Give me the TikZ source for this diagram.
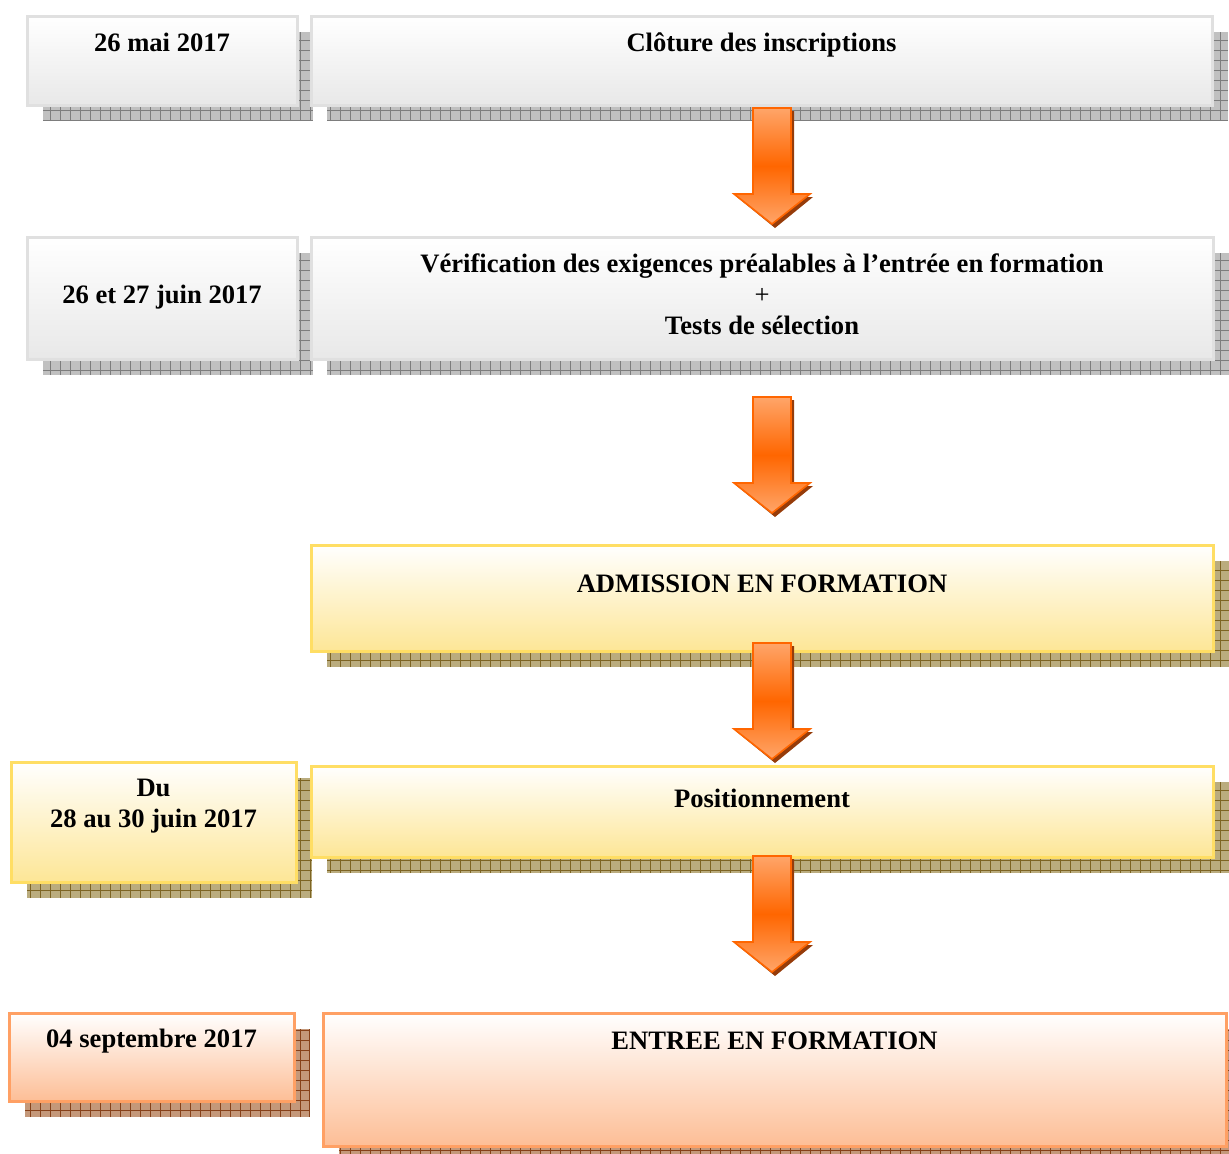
\documentclass[tikz,border=0pt]{standalone}
\usepackage{fontspec}
\setmainfont{Liberation Serif}
\usetikzlibrary{backgrounds}

\definecolor{greybot}{RGB}{232,232,232}
\definecolor{greyedge}{RGB}{224,224,224}
\definecolor{ylwbot}{RGB}{253,230,150}
\definecolor{ylwedge}{RGB}{255,222,100}
\definecolor{orgbot}{RGB}{253,190,150}
\definecolor{orgedge}{RGB}{255,160,100}
\definecolor{shgreyfill}{RGB}{192,192,192}
\definecolor{shgreyline}{RGB}{125,125,125}
\definecolor{sholivefill}{RGB}{186,172,126}
\definecolor{sholiveline}{RGB}{125,100,35}
\definecolor{shbrownfill}{RGB}{196,152,122}
\definecolor{shbrownline}{RGB}{135,65,25}
\definecolor{arrowlight}{RGB}{255,165,105}
\definecolor{arrowdark}{RGB}{255,102,0}
\definecolor{arrowshade}{RGB}{150,60,10}

\tikzset{
  stage/.style={draw, line width=1.5pt, inner xsep=2pt, inner ysep=0pt, outer sep=0pt,
    anchor=north west, align=center, font=\fontsize{13.3pt}{15.3pt}\selectfont\bfseries},
  greybox/.style={stage, draw=greyedge, top color=white, bottom color=greybot},
  ylwbox/.style={stage, draw=ylwedge, top color=white, bottom color=ylwbot},
  orgbox/.style={stage, draw=orgedge, top color=white, bottom color=orgbot},
  boxshadow/.style 2 args={fill=#1, path picture={
      \draw[#2, line width=0.5pt, step=5pt] (path picture bounding box.south west) grid (path picture bounding box.north east);}},
  greyshadow/.style={boxshadow={shgreyfill}{shgreyline}},
  oliveshadow/.style={boxshadow={sholivefill}{sholiveline}},
  brownshadow/.style={boxshadow={shbrownfill}{shbrownline}},
  blockarrow/.style={draw=arrowdark, line width=0.8pt, top color=arrowlight, bottom color=arrowlight, middle color=arrowdark},
}

\begin{document}
\begin{tikzpicture}[x=0.5pt, y=-0.5pt]
\useasboundingbox (0,0) rectangle (1229,1153);

\node[greybox, minimum width=135pt, text height=17.5pt, text depth=27pt](dclose) at (27,16) {26 mai 2017};
\node[greybox, minimum width=450.5pt, text height=17.5pt, text depth=27pt](close) at (311,16) {Clôture des inscriptions};

\node[greybox, minimum width=135pt, text height=33pt, text depth=28pt](dtests) at (27,237) {26 et 27 juin 2017};
\node[greybox, minimum width=451pt, text height=48.5pt, text depth=12.5pt](tests) at (311,237) {Vérification des exigences préalables à l’entrée en formation \\
                                        {\mdseries +} \\
                                        Tests de sélection};

\node[ylwbox, minimum width=451pt, text height=23.5pt, text depth=29.5pt](admit) at (311,545) {ADMISSION EN FORMATION};

\node[ylwbox, minimum width=142.5pt, text height=32.5pt, text depth=27.5pt](dplace) at (11,762) {Du \\ 28 au 30 juin 2017};
\node[ylwbox, minimum width=451pt, text height=20.5pt, text depth=25pt](place) at (311,766) {Positionnement};

\node[orgbox, minimum width=142.5pt, text height=17pt, text depth=27pt](dstart) at (9,1013) {04 septembre 2017};
\node[orgbox, minimum width=451.5pt, text height=18pt, text depth=48.5pt](start) at (323,1013) {ENTREE EN FORMATION};

% hatched shadows behind the boxes
\begin{scope}[on background layer]
\foreach \n/\s in {dclose/greyshadow, close/greyshadow, dtests/greyshadow, tests/greyshadow,
                   admit/oliveshadow, dplace/oliveshadow, place/oliveshadow,
                   dstart/brownshadow, start/brownshadow}
  \fill[\s] ([shift={(8pt,-8pt)}]\n.north west) rectangle ([shift={(8pt,-8pt)}]\n.south east);
\end{scope}

% block arrows between the stages
\coordinate (a1) at (772,108);
\coordinate (a2) at (772,397);
\coordinate (a3) at (772,643);
\coordinate (a4) at (772,856);
\foreach \a in {a1,a2,a3,a4}{
  \fill[arrowshade, shift={(\a)}] (-16,3) -- (22,3) -- (22,89) -- (41,89) -- (3,120) -- (-35,89) -- (-16,89) -- cycle;
  \draw[blockarrow, shift={(\a)}] (-19,0) -- (19,0) -- (19,86) -- (38,86) -- (0,116) -- (-38,86) -- (-19,86) -- cycle;
}

\end{tikzpicture}
\end{document}
